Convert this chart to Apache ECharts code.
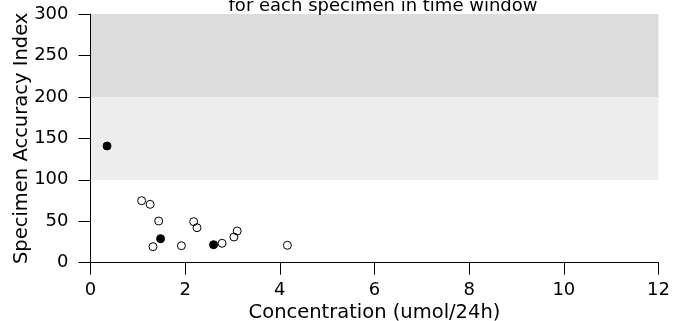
<!DOCTYPE html>
<html>
<head>
<meta charset="utf-8">
<script src="https://cdn.jsdelivr.net/npm/echarts@6/dist/echarts.min.js"></script>
<style>
  html, body { margin: 0; padding: 0; background: #fff; }
  #chart { width: 680px; height: 321px; }
</style>
</head>
<body>
<div id="chart"></div>
<script>
// Open circles (concentration, accuracy index)
const openX = [1.08, 1.26, 1.44, 1.32, 1.92, 2.18, 2.25, 2.78, 3.03, 3.10, 4.16];
const openY = [74.8, 70.4, 50.3, 19.3, 20.5, 49.5, 42.2, 23.4, 31.0, 38.2, 21.0];
// Filled circles
const filledX = [0.35, 1.48, 2.60];
const filledY = [140.8, 29.0, 21.7];
// Shaded bands
const bandRanges = [[100, 200], [200, 300]];
const bandColors = ['#ededed', '#dcdcdc'];
// Ticks
const xTicks = [0, 2, 4, 6, 8, 10, 12];
const yTicks = [0, 50, 100, 150, 200, 250, 300];

const FONT = 'DejaVu Sans';

const chart = echarts.init(document.getElementById('chart'), null, { renderer: 'canvas' });

const axisCommon = {
  z: 10,
  nameMoveOverlap: false,
  axisLine: { show: true, lineStyle: { color: '#000', width: 1 } },
  axisTick: { show: true, inside: false, length: 12, lineStyle: { color: '#000', width: 1 } },
  splitLine: { show: false },
  nameTextStyle: { fontFamily: FONT, fontSize: 19.5, color: '#000' }
};

chart.setOption({
  animation: false,
  backgroundColor: '#fff',
  title: {
    text: 'for each specimen in time window',
    left: 378,
    textAlign: 'center',
    top: -8,
    textStyle: { fontFamily: FONT, fontSize: 18, fontWeight: 'normal', color: '#000' }
  },
  grid: { left: 90.5, right: 21.5, top: 14, bottom: 58.3, outerBoundsMode: 'none' },
  xAxis: Object.assign({}, axisCommon, {
    type: 'value',
    min: xTicks[0],
    max: xTicks[xTicks.length - 1],
    interval: xTicks[1] - xTicks[0],
    name: 'Concentration (umol/24h)',
    nameLocation: 'middle',
    nameGap: 40,
    axisLabel: { margin: 19, fontFamily: FONT, fontSize: 18, color: '#000' }
  }),
  yAxis: Object.assign({}, axisCommon, {
    type: 'value',
    min: yTicks[0],
    max: yTicks[yTicks.length - 1],
    interval: yTicks[1] - yTicks[0],
    name: 'Specimen Accuracy Index',
    nameLocation: 'middle',
    nameGap: 59,
    axisLabel: { margin: 22, fontFamily: FONT, fontSize: 18, color: '#000' }
  }),
  series: [
    {
      type: 'scatter',
      z: 1,
      data: [],
      silent: true,
      markArea: {
        silent: true,
        data: bandRanges.map((r, i) => [
          { yAxis: r[0], itemStyle: { color: bandColors[i] } },
          { yAxis: r[1] }
        ])
      }
    },
    {
      type: 'scatter',
      z: 5,
      symbol: 'circle',
      symbolSize: 8,
      itemStyle: { color: 'transparent', borderColor: '#000', borderWidth: 1, opacity: 1 },
      data: openX.map((x, i) => [x, openY[i]])
    },
    {
      type: 'scatter',
      z: 5,
      symbol: 'circle',
      symbolSize: 8,
      itemStyle: { color: '#000', borderColor: '#000', borderWidth: 1, opacity: 1 },
      data: filledX.map((x, i) => [x, filledY[i]])
    }
  ]
});
</script>
</body>
</html>
